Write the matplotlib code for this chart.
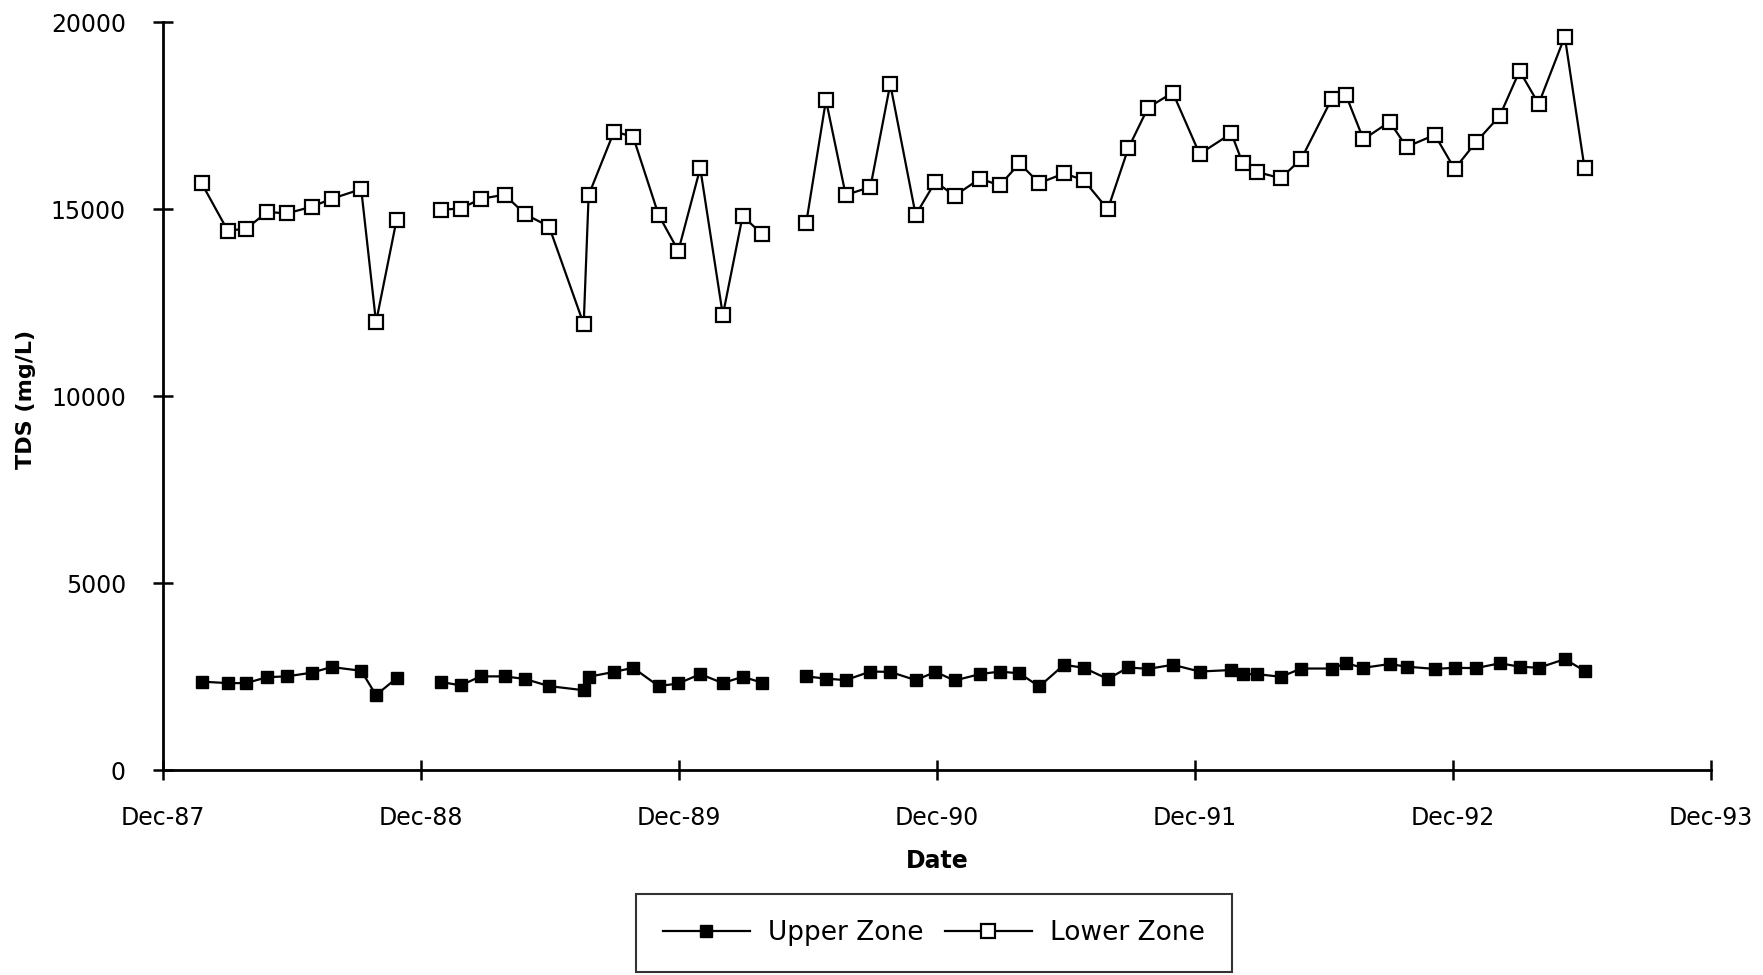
import numpy as np
import pandas as pd
import matplotlib
matplotlib.use("Agg")
import matplotlib.pyplot as plt
import matplotlib.dates as mdates
from matplotlib.lines import Line2D

# sampling dates (shared by both zones)
dates = pd.to_datetime([
    "1988-01-25", "1988-03-02", "1988-03-28", "1988-04-27", "1988-05-25",
    "1988-06-29", "1988-07-27", "1988-09-07", "1988-09-28", "1988-10-27",
    "1988-12-29", "1989-01-26", "1989-02-23", "1989-03-29", "1989-04-27",
    "1989-05-31", "1989-07-19", "1989-07-26", "1989-08-31", "1989-09-27",
    "1989-11-02", "1989-11-30", "1989-12-31", "1990-02-01", "1990-03-01",
    "1990-03-29",
    "1990-05-30", "1990-06-27", "1990-07-25", "1990-08-29", "1990-09-26",
    "1990-11-01", "1990-11-29", "1990-12-26", "1991-01-31", "1991-02-28",
    "1991-03-28", "1991-04-25", "1991-05-30", "1991-06-27", "1991-07-31",
    "1991-08-29", "1991-09-26", "1991-10-31", "1991-12-08", "1992-01-22",
    "1992-02-07", "1992-02-27", "1992-04-01", "1992-04-30", "1992-06-12",
    "1992-07-02", "1992-07-27", "1992-09-02", "1992-09-26", "1992-11-05",
    "1992-12-03", "1993-01-02", "1993-02-05", "1993-03-05", "1993-04-01",
    "1993-05-08", "1993-06-05",
])

upper_zone = [
    2370, 2330, 2330, 2490, 2510, 2610, 2760, 2660, 2010, 2460,
    2360, 2270, 2510, 2510, 2440, 2250, 2140, 2500, 2630, 2740,
    2250, 2320, 2570, 2330, 2500, 2340,
    2510, 2450, 2410, 2640, 2630, 2410, 2630, 2400, 2570, 2640,
    2590, 2240, 2820, 2740, 2440, 2750, 2710, 2820, 2640, 2680,
    2570, 2570, 2500, 2720, 2720, 2860, 2740, 2840, 2770, 2710,
    2740, 2730, 2860, 2770, 2740, 2970, 2660,
]

lower_zone = [
    15700, 14430, 14480, 14930, 14890, 15070, 15280, 15540, 11980, 14710,
    14990, 15020, 15280, 15390, 14870, 14540, 11930, 15380, 17080, 16940,
    14850, 13890, 16100, 12170, 14820, 14330,
    14630, 17920, 15380, 15600, 18350, 14850, 15740, 15360, 15820, 15640,
    16230, 15700, 15960, 15780, 15000, 16630, 17720, 18120, 16480, 17030,
    16230, 16000, 15830, 16350, 17950, 18060, 16870, 17340, 16670, 16990,
    16080, 16790, 17500, 18700, 17820, 19620, 16100,
]

# the lines are broken where sampling stopped
breaks = [10, 26]

fig = plt.figure(figsize=(17.63, 9.75), dpi=100)
ax = fig.add_axes([0.0923, 0.2100, 0.8782, 0.7671])

seg_dates = np.split(np.array(dates), breaks)
seg_up = np.split(np.array(upper_zone, dtype=float), breaks)
seg_low = np.split(np.array(lower_zone, dtype=float), breaks)

for d, u, l in zip(seg_dates, seg_up, seg_low):
    ax.plot(d, u, color="black", lw=1.6, marker="s", ms=8,
            mfc="black", mec="black", clip_on=False)
    ax.plot(d, l, color="black", lw=1.6, marker="s", ms=10.5,
            mfc="white", mec="black", mew=1.6, clip_on=False)

ax.set_xlim(pd.Timestamp("1987-12-01"), pd.Timestamp("1993-12-01"))
ax.set_ylim(0, 20000)
ax.set_yticks([0, 5000, 10000, 15000, 20000])
ax.xaxis.set_major_locator(mdates.YearLocator(base=1, month=12, day=1))
ax.xaxis.set_major_formatter(mdates.DateFormatter("%b-%y"))

for s in ["top", "right"]:
    ax.spines[s].set_visible(False)
for s in ["left", "bottom"]:
    ax.spines[s].set_linewidth(2)

ax.tick_params(direction="inout", length=15, width=1.8, labelsize=17)
ax.tick_params(axis="y", pad=19)
ax.tick_params(axis="x", pad=18)

fig.text(26 / 1763, 1 - 399 / 975, "TDS (mg/L)", rotation=90,
         ha="center", va="center", fontsize=16, fontweight="bold")
fig.text(937 / 1763, 1 - 861 / 975, "Date", ha="center", va="center",
         fontsize=17, fontweight="bold")

handles = [
    Line2D([], [], color="black", lw=1.6, marker="s", ms=8, mfc="black"),
    Line2D([], [], color="black", lw=1.6, marker="s", ms=10.5,
           mfc="white", mew=1.6),
]
leg = fig.legend(handles, ["Upper Zone", "Lower Zone"], loc="center",
                 bbox_to_anchor=(934 / 1763, 1 - 933 / 975), ncol=2,
                 fontsize=19, frameon=True, fancybox=False,
                 edgecolor="black", handlelength=3.3, columnspacing=0.8,
                 borderpad=1.0, handletextpad=0.7)
leg.get_frame().set_linewidth(1.5)

fig.savefig("out.png", dpi=100)
